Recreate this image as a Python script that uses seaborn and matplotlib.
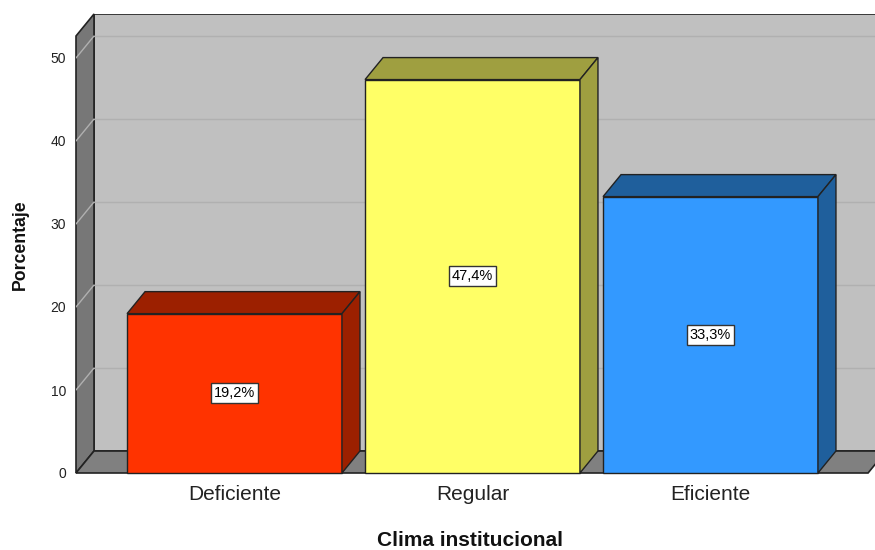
import matplotlib
matplotlib.use('Agg')
import matplotlib.pyplot as plt
from matplotlib.patches import Polygon, Rectangle
import seaborn as sns

# data
categorias = ['Deficiente', 'Regular', 'Eficiente']
porcentajes = [19.2, 47.4, 33.3]
yticks = [0, 10, 20, 30, 40, 50]
color_frente = ['#ff3300', '#ffff66', '#3399ff']
color_lado = ['#9c2000', '#9f9f40', '#1f5f9c']

sns.set_style('white')
plt.rcParams['font.family'] = ['Liberation Sans', 'DejaVu Sans']

fig = plt.figure(figsize=(8.75, 5.5), dpi=100)
# axes covers the 3D box: front plane x 76..875 px, y 473..14 px
ax = fig.add_axes([76 / 875, 77 / 550, 799 / 875, 459 / 550])

px_cat = 238.0   # px per category
px_val = 8.3     # px per percent unit
x0 = -0.666
x1 = 2.662
xmax = x0 + 799 / px_cat
ymax = 459 / px_val
dx = 18 / px_cat
dy = 22 / px_val
top_front = ymax - dy
edge = '#222222'

# walls
back = Polygon([(x0 + dx, dy), (xmax + 1, dy), (xmax + 1, ymax), (x0 + dx, ymax)],
               closed=True, fc='#c0c0c0', ec=edge, lw=1.2, zorder=0.5)
left = Polygon([(x0, 0), (x0 + dx, dy), (x0 + dx, ymax), (x0, top_front)],
               closed=True, fc='#777777', ec=edge, lw=1.2, zorder=0.6)
floor = Polygon([(x0, 0), (x1, 0), (x1 + dx, dy), (x0 + dx, dy)],
                closed=True, fc='#808080', ec=edge, lw=1.2, zorder=0.6)
for p in (back, left, floor):
    ax.add_patch(p)
left.set_clip_on(False)
floor.set_clip_on(False)

# grid lines on walls
for v in yticks[1:]:
    ax.plot([x0 + dx, xmax + 1], [v + dy, v + dy], color='#b0b0b0', lw=1, zorder=0.7)
    ax.plot([x0, x0 + dx], [v, v + dy], color='#b0b0b0', lw=1, zorder=0.7)

# bars (front faces)
sns.barplot(x=categorias, y=porcentajes, hue=categorias, palette=color_frente,
            saturation=1, width=0.903, edgecolor=edge, linewidth=1, legend=False,
            ax=ax, zorder=2)

bars = [p for p in ax.patches if isinstance(p, Rectangle)]
for i, bar in enumerate(bars):
    bar.set_clip_on(False)
    bx = bar.get_x()
    bw = bar.get_width()
    h = bar.get_height()
    top = Polygon([(bx, h), (bx + bw, h), (bx + bw + dx, h + dy), (bx + dx, h + dy)],
                  closed=True, fc=color_lado[i], ec=edge, lw=1, zorder=2)
    side = Polygon([(bx + bw, 0), (bx + bw + dx, dy), (bx + bw + dx, h + dy), (bx + bw, h)],
                   closed=True, fc=color_lado[i], ec=edge, lw=1, zorder=2)
    ax.add_patch(top)
    ax.add_patch(side)
    ax.text(bx + bw / 2, h / 2, f'{porcentajes[i]:.1f}%'.replace('.', ','),
            ha='center', va='center', fontsize=10.5, color='black', zorder=3,
            bbox=dict(boxstyle='square,pad=0.2', fc='white', ec='#333333', lw=1))

ax.set_xlim(x0, xmax)
ax.set_ylim(0, ymax)
for s in ax.spines.values():
    s.set_visible(False)
ax.set_yticks(yticks)
ax.set_yticklabels([str(v) for v in yticks], fontsize=10, color='#222222')
ax.set_xticks(range(len(categorias)))
ax.set_xticklabels(categorias, fontsize=15, color='#222222')
ax.tick_params(axis='y', length=0, pad=7)
ax.tick_params(axis='x', length=0, pad=9)
ax.set_xlabel('')
ax.set_ylabel('')

fig.text(470 / 875, 1 - 541 / 550, 'Clima institucional', ha='center', va='center',
         fontsize=15, fontweight='bold', color='#111111')
fig.text(20 / 875, 1 - 245 / 550, 'Porcentaje', ha='center', va='center',
         rotation=90, fontsize=12.7, fontweight='bold', color='#111111')

fig.savefig('out.png', dpi=100)
